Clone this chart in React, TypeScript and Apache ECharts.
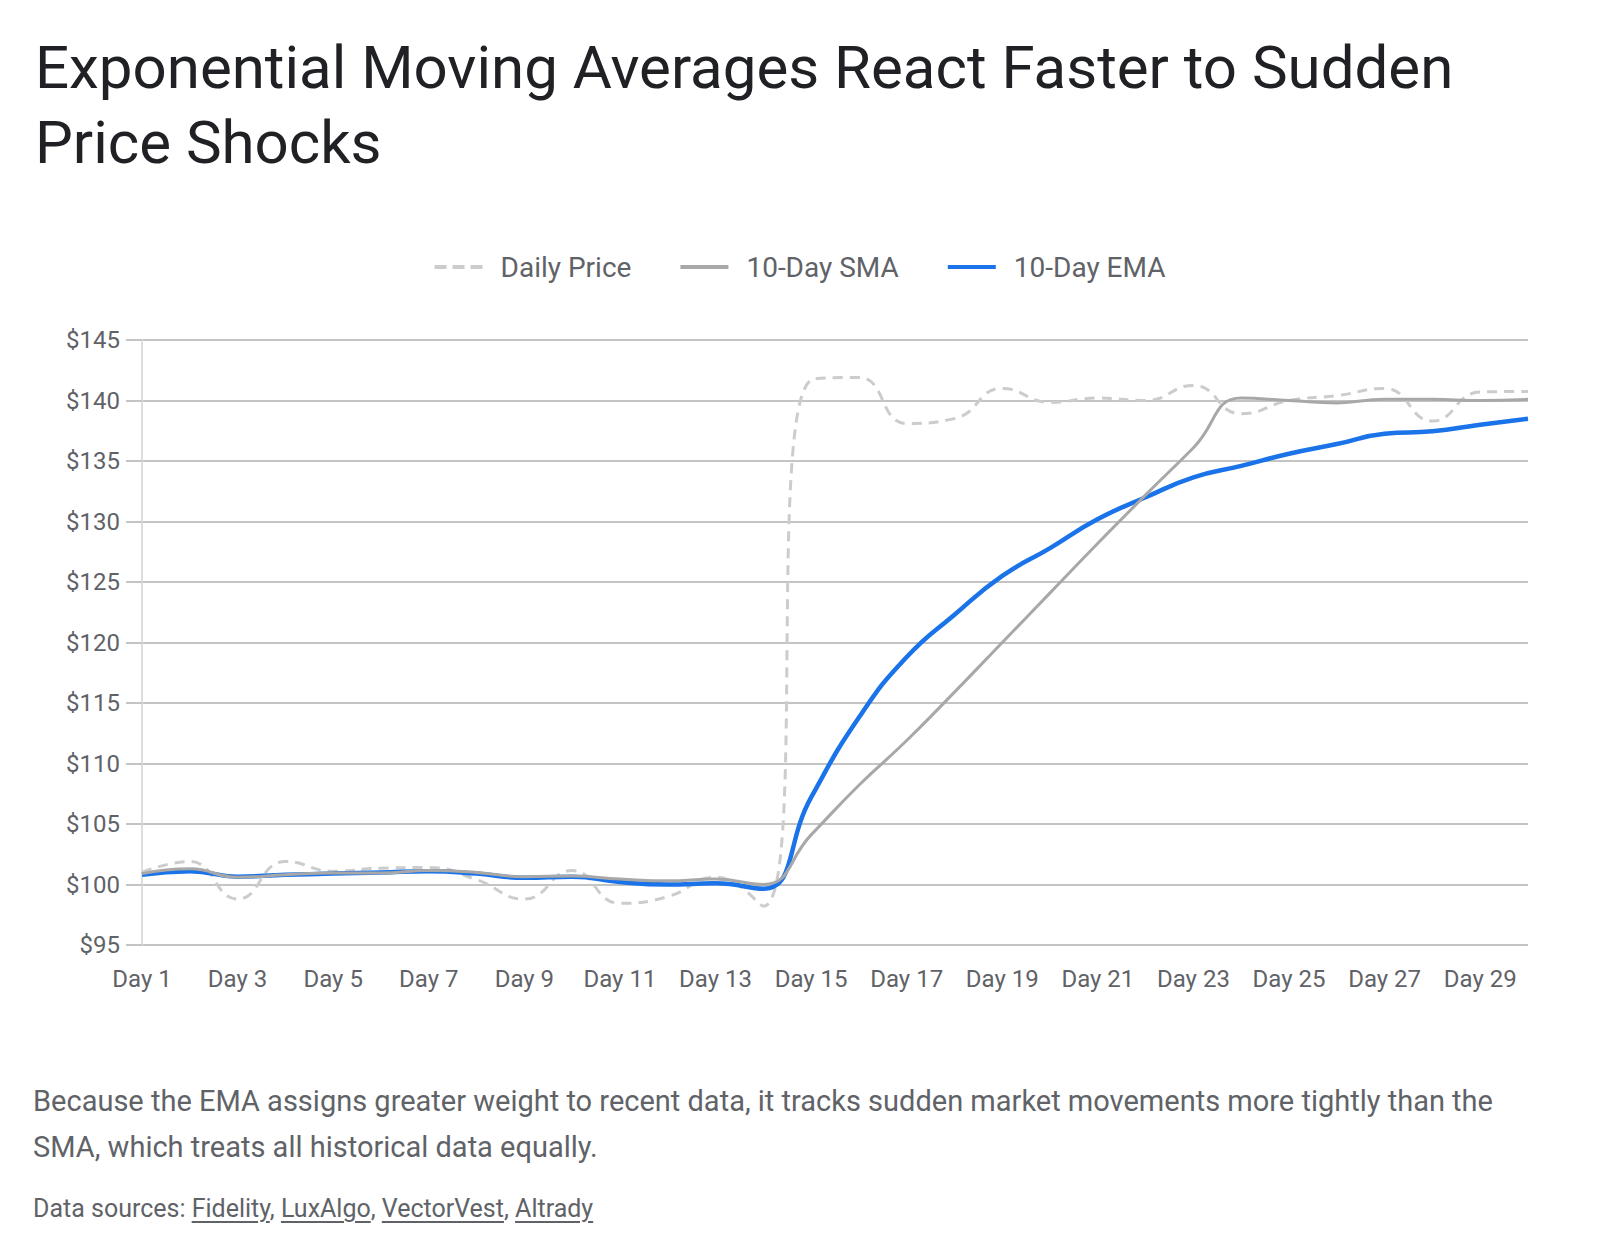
import React, { useEffect, useRef } from "react";
import * as echarts from "echarts";

// Trading days on the x axis
const days = [
  "Day 1", "Day 2", "Day 3", "Day 4", "Day 5", "Day 6", "Day 7", "Day 8", "Day 9", "Day 10",
  "Day 11", "Day 12", "Day 13", "Day 14", "Day 15", "Day 16", "Day 17", "Day 18", "Day 19", "Day 20",
  "Day 21", "Day 22", "Day 23", "Day 24", "Day 25", "Day 26", "Day 27", "Day 28", "Day 29", "Day 30",
];

// Closing price per day (USD)
const dailyPrice = [
  101.0, 101.9, 98.8, 101.9, 101.1, 101.35, 101.4, 100.4, 98.8, 101.15,
  98.45, 99.0, 100.6, 98.2, 141.7, 141.9, 138.1, 138.5, 141.0, 139.85,
  140.2, 140.0, 141.25, 138.9, 140.0, 140.4, 141.0, 138.3, 140.7, 140.75,
];

// 10-day simple moving average
const sma10 = [
  100.9, 101.3, 100.6, 100.8, 100.95, 100.95, 101.15, 101.0, 100.65, 100.7,
  100.45, 100.3, 100.45, 100.0, 104.1, 108.2, 111.9, 115.9, 120.0, 124.1,
  128.2, 132.2, 136.1, 140.2, 140.0, 139.8, 140.1, 140.1, 140.0, 140.1,
];

// 10-day exponential moving average
const ema10 = [
  100.8, 101.1, 100.65, 100.8, 100.9, 101.0, 101.1, 100.9, 100.55, 100.65,
  100.2, 100.0, 100.1, 99.65, 107.2, 113.8, 118.8, 122.3, 125.5, 127.8,
  130.2, 132.0, 133.65, 134.6, 135.6, 136.4, 137.25, 137.45, 138.0, 138.5,
];

const FONT = "Roboto, 'Noto Sans', sans-serif";

// Legend swatches: a dashed bar for the raw price, solid bars for the averages
const DASHED_ICON = "path://M0,0h12v4h-12z M18,0h12v4h-12z M36,0h12v4h-12z";
const SOLID_ICON = "path://M0,0h48v4h-48z";

export default function App() {
  const ref = useRef<HTMLDivElement>(null);

  useEffect(() => {
    document.body.style.margin = "0";
    if (!ref.current) return;
    const chart = echarts.init(ref.current, undefined, { renderer: "svg" });
    chart.setOption({
      animation: false,
      backgroundColor: "#ffffff",
      title: {
        text: "Exponential Moving Averages React Faster to Sudden\nPrice Shocks",
        left: 30,
        top: 25,
        textStyle: {
          fontFamily: FONT,
          fontSize: 60,
          fontWeight: 400,
          color: "#202124",
          lineHeight: 75,
        },
      },
      legend: {
        data: [
          { name: "Daily Price", icon: DASHED_ICON },
          { name: "10-Day SMA", icon: SOLID_ICON },
          { name: "10-Day EMA", icon: SOLID_ICON },
        ],
        top: 247,
        left: "center",
        itemWidth: 48,
        itemHeight: 4,
        itemGap: 49,
        textStyle: {
          fontFamily: FONT,
          fontSize: 28,
          color: "#5f6368",
          lineHeight: 30,
          padding: [0, 0, 0, 13],
        },
      },
      grid: { left: 142, right: 72, top: 340, bottom: 313, containLabel: false },
      xAxis: {
        type: "category",
        data: days,
        boundaryGap: false,
        axisLine: { show: false },
        axisTick: { show: false },
        axisLabel: {
          interval: 1,
          margin: 22,
          fontFamily: FONT,
          fontSize: 24,
          color: "#5f6368",
        },
        splitLine: { show: false },
      },
      yAxis: {
        type: "value",
        min: 95,
        max: 145,
        interval: 5,
        axisLine: { show: true, lineStyle: { color: "#dedede", width: 2 } },
        axisTick: { show: true, length: 16, lineStyle: { color: "#c4c4c4", width: 2 } },
        axisLabel: {
          margin: 22,
          fontFamily: FONT,
          fontSize: 24,
          color: "#5f6368",
          formatter: (v: number) => "$" + v,
        },
        splitLine: { show: true, lineStyle: { color: "#c4c4c4", width: 2 } },
      },
      series: [
        {
          name: "Daily Price",
          type: "line",
          data: dailyPrice,
          smooth: true,
          symbol: "none",
          z: 2,
          lineStyle: { color: "#cccccc", width: 3, type: [10, 7] },
          itemStyle: { color: "#cccccc" },
        },
        {
          name: "10-Day EMA",
          type: "line",
          data: ema10,
          smooth: true,
          symbol: "none",
          z: 3,
          lineStyle: { color: "#1a73e8", width: 4.5 },
          itemStyle: { color: "#1a73e8" },
        },
        {
          name: "10-Day SMA",
          type: "line",
          data: sma10,
          smooth: true,
          symbol: "none",
          z: 4,
          lineStyle: { color: "#a8a8a8", width: 3 },
          itemStyle: { color: "#a8a8a8" },
        },
      ],
    });
    return () => chart.dispose();
  }, []);

  const linkStyle: React.CSSProperties = {
    textDecoration: "underline",
    textUnderlineOffset: "4px",
    color: "#5f6368",
  };

  return (
    <div style={{ position: "relative", width: 1600, height: 1258, background: "#fff", fontFamily: FONT }}>
      <div ref={ref} style={{ position: "absolute", left: 0, top: 0, width: 1600, height: 1258 }} />
      <div
        style={{
          position: "absolute",
          left: 33,
          top: 1078,
          width: 1560,
          fontSize: 29,
          lineHeight: "46px",
          color: "#5f6368",
          whiteSpace: "nowrap",
        }}
      >
        Because the EMA assigns greater weight to recent data, it tracks sudden market movements more tightly than the
        <br />
        SMA, which treats all historical data equally.
      </div>
      <div
        style={{
          position: "absolute",
          left: 33,
          top: 1194,
          fontSize: 25,
          lineHeight: "30px",
          color: "#5f6368",
          whiteSpace: "nowrap",
        }}
      >
        Data sources: <span style={linkStyle}>Fidelity</span>, <span style={linkStyle}>LuxAlgo</span>,{" "}
        <span style={linkStyle}>VectorVest</span>, <span style={linkStyle}>Altrady</span>
      </div>
    </div>
  );
}
